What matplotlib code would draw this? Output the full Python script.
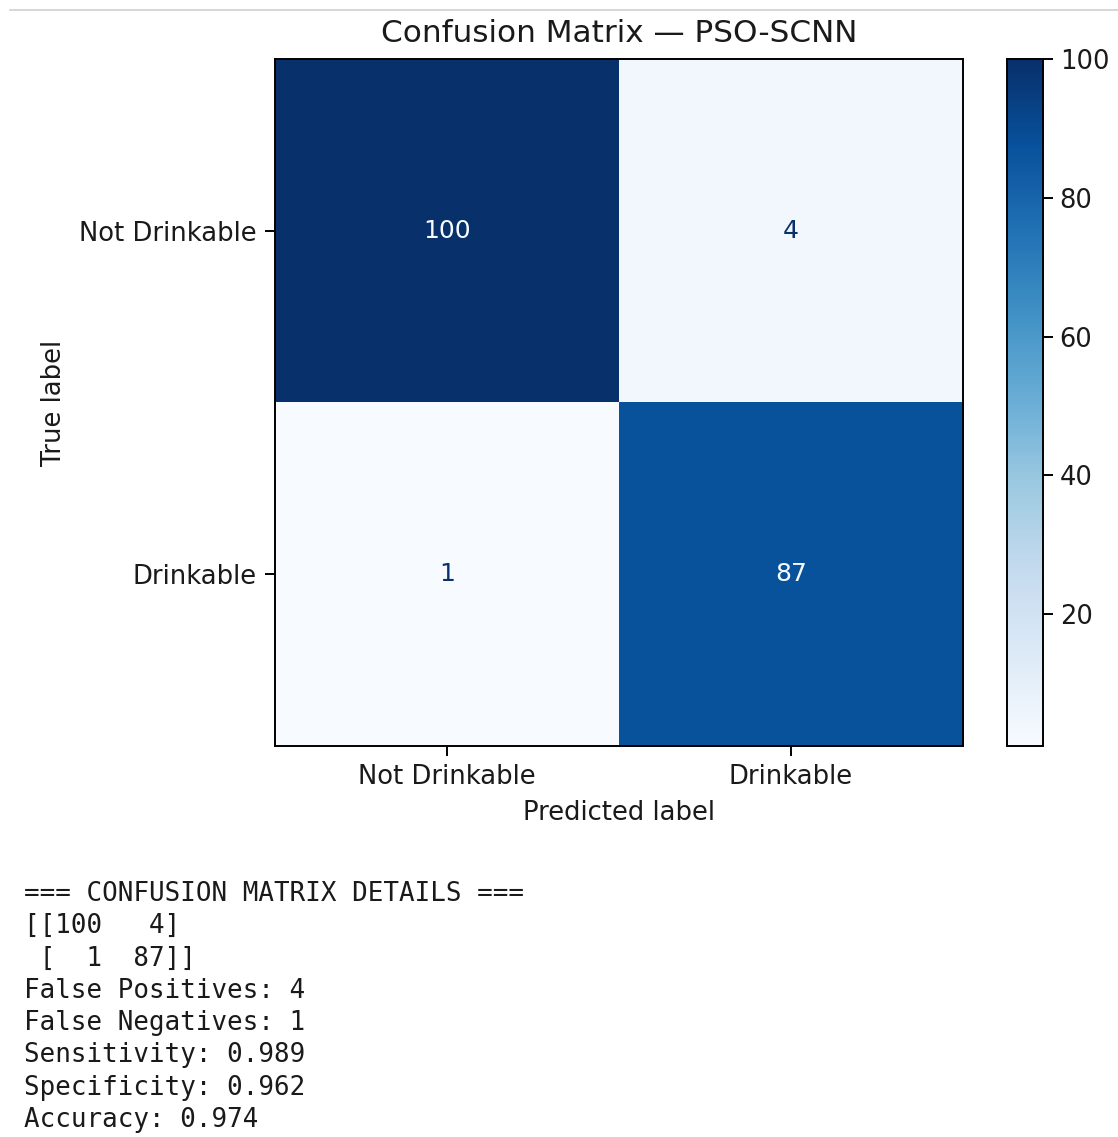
import numpy as np
import matplotlib
matplotlib.use("Agg")
import matplotlib.pyplot as plt
from matplotlib.lines import Line2D

# Confusion matrix results
class_names = ["Not Drinkable", "Drinkable"]
cm = np.array([[100, 4],
               [1, 87]])
title = "Confusion Matrix \u2014 PSO-SCNN"
cbar_ticks = [20, 40, 60, 80, 100]

W, H = 1118, 1137
fig = plt.figure(figsize=(W / 100, H / 100), dpi=100)
fig.patch.set_facecolor("white")

# separator line at the top
fig.add_artist(Line2D([10 / W, 1.0], [1 - 10 / H, 1 - 10 / H], color="#cfcfcf", lw=1.2))

ax_l, ax_r, ax_t, ax_b = 275 / W, 963 / W, 1 - 59 / H, 1 - 746 / H
ax = fig.add_axes([ax_l, ax_b, ax_r - ax_l, ax_t - ax_b])
cax = fig.add_axes([1007 / W, ax_b, 36 / W, ax_t - ax_b])

cmap = plt.get_cmap("Blues")
vmin, vmax = cm.min(), cm.max()
im = ax.imshow(cm, cmap=cmap, vmin=vmin, vmax=vmax, interpolation="nearest", aspect="auto")

thresh = (cm.max() + cm.min()) / 2.0
lab_fs = 18.6
text_color = "#1a1a1a"
for i in range(cm.shape[0]):
    for j in range(cm.shape[1]):
        color = cmap(0.0) if cm[i, j] > thresh else cmap(1.0)
        ax.text(j, i, str(cm[i, j]), ha="center", va="center", color=color, fontsize=18)

ax.set_xticks(range(len(class_names)))
ax.set_yticks(range(len(class_names)))
ax.set_xticklabels(class_names, fontsize=lab_fs, color=text_color)
ax.set_yticklabels(class_names, fontsize=lab_fs, color=text_color)
ax.tick_params(length=7, width=1.4, pad=6)
for s in ax.spines.values():
    s.set_linewidth(1.4)
ax.set_xlabel("Predicted label", fontsize=lab_fs, labelpad=7, color=text_color)
ax.set_ylabel("True label", fontsize=lab_fs, labelpad=9, color=text_color)
ax.set_title(title, fontsize=22.4, pad=12, color=text_color)

cb = fig.colorbar(im, cax=cax)
cb.set_ticks(cbar_ticks)
cb.ax.tick_params(labelsize=18.5, length=7, width=1.4, pad=5, labelcolor=text_color)
cb.outline.set_linewidth(1.4)

# Printed summary below the plot
tn, fp, fn, tp = cm[0, 0], cm[0, 1], cm[1, 0], cm[1, 1]
sensitivity = tp / (tp + fn)
specificity = tn / (tn + fp)
accuracy = (tp + tn) / cm.sum()
lines = ["=== CONFUSION MATRIX DETAILS ==="]
lines += str(cm).split("\n")
lines += [
    f"False Positives: {fp}",
    f"False Negatives: {fn}",
    f"Sensitivity: {sensitivity:.3f}",
    f"Specificity: {specificity:.3f}",
    f"Accuracy: {accuracy:.3f}",
]
y0, dy = 894, 32.3
for k, line in enumerate(lines):
    fig.text(24 / W, 1 - (y0 + k * dy) / H, line, family="DejaVu Sans Mono",
             fontsize=18.65, ha="left", va="center", color=text_color)

fig.savefig("out.png", dpi=100, facecolor="white")
